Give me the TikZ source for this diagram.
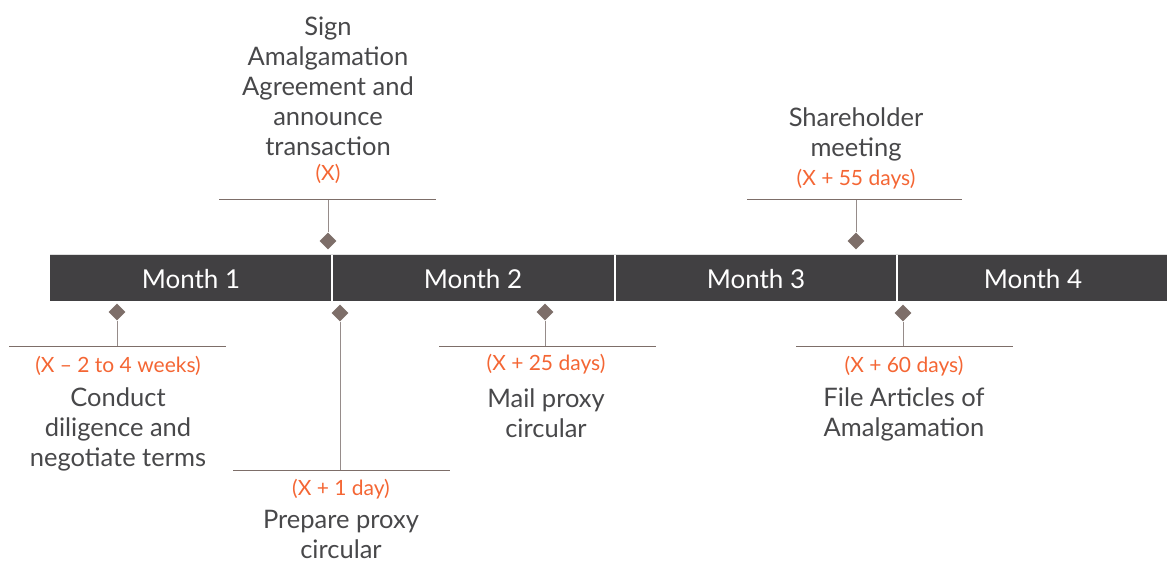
\documentclass[tikz,border=0pt]{standalone}
\usepackage{fontspec}
\setmainfont{Lato}
\usetikzlibrary{shapes.geometric}
\definecolor{barGray}{RGB}{65,64,66}
\definecolor{mileBrown}{RGB}{125,110,105}
\definecolor{stemGray}{RGB}{150,140,138}
\definecolor{dateOrange}{RGB}{244,102,52}
\definecolor{textGray}{RGB}{72,72,74}

\begin{document}
\begin{tikzpicture}[x=1pt,y=1pt,yscale=-1,
    month/.style={text=white,font=\fontsize{26}{30}\selectfont},
    mile/.style={diamond,fill=mileBrown,inner sep=0pt,minimum size=17pt},
    stem/.style={draw=stemGray,line width=1pt},
    bracket/.style={draw=mileBrown,line width=1pt},
    task/.style={text=textGray,align=center,font=\fontsize{25.5}{30}\selectfont},
    when/.style={text=dateOrange,font=\fontsize{21}{24}\selectfont}]
\useasboundingbox (0,0) rectangle (1167,563);

% timeline bar
\fill[barGray] (50,255) rectangle (1167,301);
\draw[white!75!gray,line width=0.8pt] (50,254.6) -- (1167,254.6);
\foreach \xd in {332,615,897}
    \draw[white,line width=2pt] (\xd,255) -- (\xd,301);
\node[month] (m1) at (191,279) {Month 1};
\node[month] (m2) at (473,279) {Month 2};
\node[month] (m3) at (756,279) {Month 3};
\node[month] (m4) at (1033,279) {Month 4};

% milestones above the bar
\node[mile] (sign) at (328,241) {};
\coordinate (signtop) at (328,199);
\draw[stem] (sign) -- (signtop);
\draw[bracket] (219,199) -- (436,199);
\node[task] (signtxt) at (328,86) {Sign\\Amalgamation\\Agreement and\\announce\\transaction};
\node[when] (signday) at (328,174) {(X)};

\node[mile] (meet) at (856,241) {};
\coordinate (meettop) at (856,199);
\draw[stem] (meet) -- (meettop);
\draw[bracket] (747,199) -- (962,199);
\node[task] (meettxt) at (856,134) {Shareholder\\meeting};
\node[when] (meetday) at (856,179) {(X + 55 days)};

% milestones below the bar
\node[mile] (dili) at (117,312) {};
\coordinate (dilibot) at (117,346);
\draw[stem] (dili) -- (dilibot);
\draw[bracket] (9,346) -- (226,346);
\node[when] (diliday) at (118,366) {(X – 2 to 4 weeks)};
\node[task] (dilitxt) at (118,429) {Conduct\\diligence and\\negotiate terms};

\node[mile] (prep) at (340,313) {};
\coordinate (prepbot) at (340,470);
\draw[stem] (prep) -- (prepbot);
\draw[bracket] (233,470) -- (450,470);
\node[when] (prepday) at (341,489) {(X + 1 day)};
\node[task] (preptxt) at (341,534) {Prepare proxy\\circular};

\node[mile] (mail) at (545,312) {};
\coordinate (mailbot) at (545,346);
\draw[stem] (mail) -- (mailbot);
\draw[bracket] (439,346) -- (656,346);
\node[when] (mailday) at (546,364) {(X + 25 days)};
\node[task] (mailtxt) at (546,413) {Mail proxy\\circular};

\node[mile] (file) at (903,313) {};
\coordinate (filebot) at (903,346);
\draw[stem] (file) -- (filebot);
\draw[bracket] (796,346) -- (1013,346);
\node[when] (fileday) at (904,366) {(X + 60 days)};
\node[task] (filetxt) at (904,414) {File Articles of\\Amalgamation};
\end{tikzpicture}
\end{document}
